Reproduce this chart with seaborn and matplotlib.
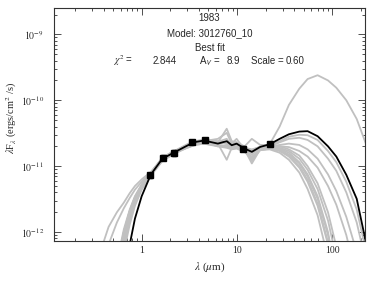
import math
import matplotlib
matplotlib.use("Agg")
import matplotlib.pyplot as plt
import matplotlib.ticker as mticker
import seaborn as sns
import pandas as pd

# --- data (fluxes in units of 1e-11 ergs/cm^2/s) ---
source_id = "1983"
model_name = "3012760_10"
chi2 = "2.844"
av = "8.9"
scale = "0.60"

wl = [0.35, 0.45, 0.55, 0.65, 0.75, 0.85, 1.0, 1.25, 1.65, 2.2,
      3.0, 3.6, 4.5, 6.3, 7.8, 8.8, 9.9, 12.0, 14.3, 17.5,
      22.0, 28.0, 35.0, 45.0, 55.0, 70.0, 90.0, 110.0, 140.0, 180.0, 230.0]

best_fit = [1e-4, 1e-4, 5e-4, 0.01, 0.065, 0.16, 0.35, 0.75, 1.3, 1.62,
            2.05, 2.32, 2.45, 2.2, 2.4, 2.08, 2.2, 1.85, 1.65, 1.96,
            2.15, 2.6, 3.05, 3.35, 3.4, 2.85, 2.0, 1.4, 0.74, 0.32, 0.06]

other_fits = {
    "m01": [1e-4, 1e-3, 0.03, 0.1, 0.21, 0.34, 0.52, 0.78, 1.28, 1.6,
            2.1, 2.3, 2.4, 2.3, 2.2, 2.1, 2.1, 1.9, 1.8, 1.95,
            2.15, 4.0, 8.5, 15, 21, 24, 20, 15.5, 10, 5.2, 2.0],
    "m02": [0.04, 0.12, 0.2, 0.28, 0.39, 0.5, 0.63, 0.82, 1.3, 1.65,
            2.0, 2.25, 2.35, 2.3, 3.7, 2.4, 2.3, 2.0, 2.6, 2.1,
            2.1, 2.4, 2.8, 3.0, 2.95, 2.5, 1.7, 1.15, 0.58, 0.22, 0.045],
    "m03": [0.01, 0.065, 0.14, 0.23, 0.33, 0.44, 0.58, 0.8, 1.28, 1.6,
            2.1, 2.4, 2.5, 2.4, 2.3, 2.2, 2.2, 1.9, 1.75, 1.95,
            2.0, 2.3, 2.6, 2.7, 2.5, 2.0, 1.3, 0.85, 0.4, 0.14, 0.03],
    "m04": [1e-4, 1e-3, 0.035, 0.11, 0.22, 0.35, 0.53, 0.8, 1.35, 1.7,
            1.95, 2.2, 2.3, 2.2, 1.25, 1.9, 2.0, 1.8, 1.1, 1.8,
            2.0, 2.1, 2.2, 2.1, 1.8, 1.3, 0.75, 0.42, 0.17, 0.05, 0.01],
    "m05": [1e-4, 1e-3, 0.02, 0.085, 0.19, 0.31, 0.5, 0.76, 1.25, 1.58,
            2.0, 2.3, 2.35, 2.0, 2.1, 2.0, 2.15, 1.9, 1.6, 1.9,
            1.95, 2.0, 1.95, 1.7, 1.4, 0.95, 0.5, 0.26, 0.09, 0.02, 0.003],
    "m06": [1e-4, 1e-3, 0.015, 0.07, 0.17, 0.29, 0.48, 0.74, 1.3, 1.65,
            2.05, 2.25, 2.4, 2.6, 3.2, 2.2, 2.6, 1.8, 1.5, 1.9,
            1.95, 1.85, 1.6, 1.15, 0.75, 0.35, 0.1, 0.02, 0.002, 1e-4, 1e-5],
    "m07": [1e-4, 1e-3, 0.01, 0.06, 0.15, 0.27, 0.46, 0.73, 1.22, 1.55,
            1.95, 2.15, 2.25, 2.1, 2.0, 1.9, 1.95, 1.7, 1.35, 1.8,
            1.9, 1.75, 1.45, 1.0, 0.62, 0.27, 0.07, 0.012, 1e-3, 1e-4, 1e-5],
    "m08": [1e-4, 1e-3, 0.025, 0.09, 0.2, 0.32, 0.5, 0.77, 1.33, 1.68,
            2.1, 2.35, 2.45, 2.3, 2.25, 2.0, 2.05, 1.75, 1.25, 1.85,
            2.0, 1.9, 1.7, 1.3, 0.88, 0.45, 0.15, 0.04, 0.005, 3e-4, 1e-5],
    "m09": [1e-4, 1e-3, 0.008, 0.05, 0.13, 0.25, 0.44, 0.72, 1.2, 1.55,
            1.9, 2.1, 2.2, 2.0, 1.9, 1.8, 1.85, 1.65, 1.3, 1.75,
            1.85, 1.7, 1.4, 0.95, 0.58, 0.25, 0.065, 0.01, 1e-3, 1e-4, 1e-5],
    "m10": [1e-4, 1e-3, 0.03, 0.1, 0.21, 0.33, 0.51, 0.79, 1.35, 1.7,
            2.15, 2.4, 2.5, 2.35, 2.6, 2.1, 2.3, 1.9, 1.7, 2.0,
            2.05, 2.0, 1.8, 1.45, 1.0, 0.55, 0.2, 0.06, 0.01, 1e-3, 1e-4],
    "m11": [1e-4, 1e-3, 0.012, 0.065, 0.16, 0.28, 0.47, 0.74, 1.25, 1.6,
            1.9, 2.1, 2.2, 2.05, 1.95, 1.85, 1.9, 1.7, 1.4, 1.75,
            1.8, 1.6, 1.25, 0.8, 0.45, 0.18, 0.04, 6e-3, 5e-4, 1e-4, 1e-5],
    "m12": [1e-4, 1e-3, 0.018, 0.075, 0.18, 0.3, 0.49, 0.76, 1.28, 1.62,
            2.0, 2.2, 2.3, 2.15, 2.3, 1.95, 2.0, 1.8, 1.2, 1.8,
            1.9, 1.8, 1.5, 1.1, 0.7, 0.32, 0.09, 0.02, 2e-3, 1e-4, 1e-5],
}

phot_wl = [1.235, 1.662, 2.159, 3.35, 4.6, 11.56, 22.08]
phot_flux = [0.73, 1.34, 1.59, 2.33, 2.48, 1.85, 2.15]
phot_err = [0.07, 0.12, 0.14, 0.18, 0.18, 0.15, 0.15]

unit = 1e-11

# --- tables ---
rows = []
for name, vals in other_fits.items():
    for w, f in zip(wl, vals):
        rows.append({"model": name, "wl": w, "flux": f * unit})
gray_df = pd.DataFrame(rows)
best_df = pd.DataFrame({"wl": wl, "flux": [f * unit for f in best_fit]})
phot_df = pd.DataFrame({"wl": phot_wl,
                        "flux": [f * unit for f in phot_flux],
                        "err": [e * unit for e in phot_err]})

# --- plot ---
sns.set_style("ticks")
plt.rcParams["font.family"] = ["Liberation Sans", "DejaVu Sans"]
plt.rcParams["mathtext.fontset"] = "stix"

fig = plt.figure(figsize=(3.74, 2.81), dpi=100)
ax = fig.add_axes([0.144, 0.142, 0.832, 0.829])
ax.set_xscale("log")
ax.set_yscale("log")

sns.lineplot(data=gray_df, x="wl", y="flux", units="model", estimator=None,
             sort=False, color="#c0c0c0", lw=1.3, ax=ax, legend=False)
sns.lineplot(data=best_df, x="wl", y="flux", sort=False, color="black",
             lw=1.3, ax=ax)
ax.errorbar(phot_df["wl"], phot_df["flux"], yerr=phot_df["err"], fmt="s",
            color="black", ms=4, capsize=1.5, elinewidth=0.8, zorder=5)

ax.set_xlim(0.12, 220)
ax.set_ylim(7.3e-13, 2.5e-9)

ax.xaxis.set_major_locator(mticker.FixedLocator([1, 10, 100]))
ax.xaxis.set_major_formatter(mticker.FuncFormatter(lambda v, p: f"{v:g}"))
ax.xaxis.set_minor_locator(mticker.LogLocator(base=10, subs=range(2, 10), numticks=20))
ax.xaxis.set_minor_formatter(mticker.NullFormatter())
ax.yaxis.set_major_locator(mticker.FixedLocator([1e-12, 1e-11, 1e-10, 1e-9]))
ax.yaxis.set_major_formatter(mticker.FuncFormatter(
    lambda v, p: r"$10^{%d}$" % round(math.log10(v))))
ax.yaxis.set_minor_locator(mticker.LogLocator(base=10, subs=range(2, 10), numticks=20))
ax.yaxis.set_minor_formatter(mticker.NullFormatter())

ax.tick_params(which="both", direction="in", top=True, right=True,
               color="#333333", width=0.6, labelsize=7,
               labelfontfamily="Liberation Serif")
ax.tick_params(which="major", length=5)
ax.tick_params(which="minor", length=2.5)
ax.tick_params(axis="y", pad=7)
ax.tick_params(axis="x", pad=3.5)
for s in ax.spines.values():
    s.set_linewidth(0.8)
    s.set_color("#333333")

ax.set_xlabel(r"$\lambda$ ($\mu$m)", fontfamily="Liberation Serif", fontsize=8)
ax.set_ylabel(r"$\lambda$F$_\lambda$ (ergs/cm$^2$ /s)",
              fontfamily="Liberation Serif", fontsize=7.5)
ax.xaxis.set_label_coords(0.5, -0.085)
ax.yaxis.set_label_coords(-0.112, 0.53)

fs = 7
ax.text(0.5, 0.957, source_id, transform=ax.transAxes, ha="center", va="center", fontsize=fs)
ax.text(0.5, 0.893, "Model: " + model_name, transform=ax.transAxes, ha="center", va="center", fontsize=fs)
ax.text(0.5, 0.828, "Best fit", transform=ax.transAxes, ha="center", va="center", fontsize=fs)
ax.text(0.190, 0.773, r"$\chi^2$ =", transform=ax.transAxes, ha="left", va="center", fontsize=fs)
ax.text(0.318, 0.773, chi2, transform=ax.transAxes, ha="left", va="center", fontsize=fs)
ax.text(0.465, 0.773, r"A$_\mathsf{V}$ =", transform=ax.transAxes, ha="left", va="center", fontsize=fs)
ax.text(0.556, 0.773, av, transform=ax.transAxes, ha="left", va="center", fontsize=fs)
ax.text(0.632, 0.773, "Scale =", transform=ax.transAxes, ha="left", va="center", fontsize=fs)
ax.text(0.745, 0.773, scale, transform=ax.transAxes, ha="left", va="center", fontsize=fs)

fig.savefig("out.png", dpi=100)
